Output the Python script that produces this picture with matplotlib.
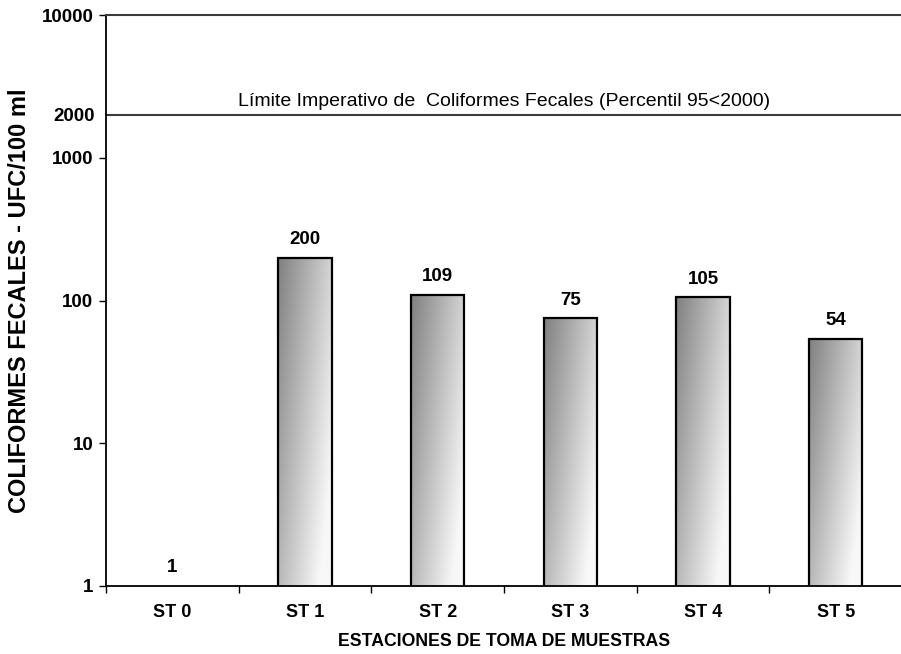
import numpy as np
import matplotlib
matplotlib.use("Agg")
import matplotlib.pyplot as plt

plt.rcParams['font.family'] = ['Liberation Sans', 'DejaVu Sans']

estaciones = ["ST 0", "ST 1", "ST 2", "ST 3", "ST 4", "ST 5"]
coliformes = [1, 200, 109, 75, 105, 54]
limite = 2000
y_ticks = [1, 10, 100, 1000, 10000]
y_tick_labels = ["1", "10", "100", "1000", "10000"]

fig = plt.figure(figsize=(9.01, 6.54), dpi=100)
ax = fig.add_axes([0.1176, 0.104, 0.8835, 0.873])

x = np.arange(len(estaciones))
ax.set_yscale('log')
ax.set_xlim(-0.5, len(estaciones) - 0.5)
ax.set_ylim(1, 10000)

edge_widths = [0 if v <= 1 else 1.6 for v in coliformes]
bars = ax.bar(x, coliformes, width=0.4, bottom=0, facecolor='none',
              edgecolor='black', linewidth=edge_widths, zorder=3)

# diagonal grey gradient inside each bar (dark top-left, light bottom-right)
n = 200
u = np.linspace(0, 1, n)[None, :]
t = np.linspace(0, 1, n)[:, None]          # 0 = top row, 1 = bottom row
shade = np.clip(0.50 + 0.33 * u + 0.22 * t, 0, 0.97)
to_axes = ax.transData + ax.transAxes.inverted()
for rect, val in zip(bars, coliformes):
    if val <= 1:
        continue
    x0 = rect.get_x()
    x1 = x0 + rect.get_width()
    (ax0, ay0), (ax1, ay1) = to_axes.transform([(x0, 1), (x1, val)])
    im = ax.imshow(shade, cmap='gray', vmin=0, vmax=1, aspect='auto',
                   extent=(ax0, ax1, ay0, ay1), origin='upper',
                   transform=ax.transAxes, zorder=2, interpolation='bilinear')
    im.set_clip_path(rect)

# value labels
for xi, val in zip(x, coliformes):
    ax.annotate(str(val), (xi, val), xytext=(0, 7), textcoords='offset points',
                ha='center', va='bottom', fontsize=13.5, fontweight='bold')

# regulatory limit line
ax.axhline(limite, color='#3a3a3a', linewidth=1.5, zorder=1)
ax.text(2.5, limite * 1.08, "Límite Imperativo de  Coliformes Fecales (Percentil 95<2000)",
        ha='center', va='bottom', fontsize=14)

# axes styling
ax.spines['right'].set_visible(False)
ax.spines['top'].set_color('#3a3a3a')
ax.spines['top'].set_linewidth(1.5)
for side in ('left', 'bottom'):
    ax.spines[side].set_color('black')
    ax.spines[side].set_linewidth(1.3)

ax.set_yticks(y_ticks)
ax.set_yticklabels(y_tick_labels, fontsize=13.5, fontweight='bold')
ax.yaxis.set_minor_locator(matplotlib.ticker.FixedLocator([limite]))
ax.yaxis.set_minor_formatter(matplotlib.ticker.FixedFormatter([str(limite)]))
ax.tick_params(axis='y', which='minor', length=0, pad=8, labelsize=13.5)
for lab in ax.get_yticklabels(minor=True):
    lab.set_fontweight('bold')
ax.tick_params(axis='y', which='major', length=5, width=1, direction='out', pad=4)

ax.set_xticks(np.arange(-0.5, len(estaciones), 1.0))
ax.set_xticklabels([])
ax.set_xticks(x, minor=True)
ax.set_xticklabels(estaciones, minor=True, fontsize=13, fontweight='bold')
ax.tick_params(axis='x', which='major', length=5, width=1, direction='out')
ax.tick_params(axis='x', which='minor', length=0, pad=13)

ax.set_xlabel("ESTACIONES DE TOMA DE MUESTRAS", fontsize=12.7, fontweight='bold')
ax.xaxis.set_label_coords(0.5, -0.082)
ax.set_ylabel("COLIFORMES FECALES - UFC/100 ml", fontsize=17, fontweight='bold')
ax.yaxis.set_label_coords(-0.094, 0.5)

fig.savefig("out.png", dpi=100)
